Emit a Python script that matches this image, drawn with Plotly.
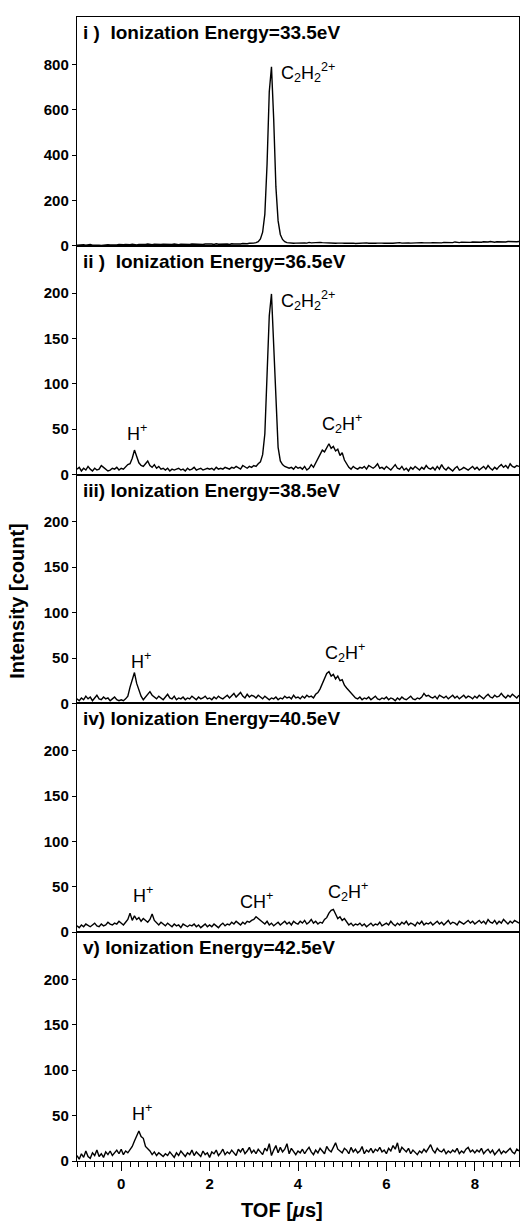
import numpy as np
import plotly.graph_objects as go
from plotly.subplots import make_subplots

# TOF sampling grid (µs), step 0.05 from -1 to 9
tof = np.round(np.arange(-1.0, 9.0001, 0.05), 2)

# Intensity [count] per panel (one row per µs)
i_33_5 = [
    3, 4, 2, 5, 3, 4, 6, 3, 4, 5, 3, 2, 4, 6, 5, 4, 3, 5, 4, 6,
    4, 5, 6, 4, 5, 7, 5, 4, 6, 5, 4, 6, 8, 6, 5, 7, 6, 5, 6, 7,
    6, 5, 7, 6, 8, 6, 5, 7, 6, 8, 7, 6, 8, 7, 6, 8, 7, 6, 8, 9,
    7, 8, 6, 9, 7, 8, 9, 7, 8, 6, 9, 8, 7, 9, 8, 10, 8, 9, 11, 10,
    12, 14, 18, 30, 60, 140, 360, 680, 790, 560, 260, 110, 50, 28, 18, 14, 12, 13, 11, 12,
    13, 12, 14, 13, 12, 15, 13, 14, 16, 17, 15, 14, 13, 12, 14, 13, 12, 11, 12, 13,
    12, 11, 12, 13, 11, 12, 10, 11, 12, 11, 12, 13, 11, 10, 12, 11, 12, 13, 12, 11,
    12, 13, 12, 11, 13, 12, 14, 12, 13, 15, 13, 12, 13, 14, 12, 13, 14, 13, 12, 14,
    13, 14, 13, 15, 14, 13, 15, 14, 16, 15, 14, 17, 15, 14, 16, 15, 14, 16, 15, 17,
    16, 15, 17, 16, 18, 16, 17, 19, 17, 16, 18, 17, 19, 18, 17, 19, 18, 20, 19, 18,
    19,
]
i_36_5 = [
    6, 8, 4, 7, 5, 9, 6, 4, 7, 5, 6, 10, 8, 6, 4, 5, 7, 6, 8, 5,
    7, 6, 9, 11, 12, 18, 27, 20, 13, 10, 9, 12, 15, 10, 8, 11, 7, 9, 6, 7,
    5, 7, 4, 6, 5, 6, 7, 5, 6, 4, 7, 5, 6, 8, 5, 6, 7, 5, 6, 7,
    6, 7, 5, 8, 6, 7, 6, 8, 7, 6, 8, 7, 9, 7, 6, 10, 8, 7, 9, 8,
    10, 9, 12, 14, 22, 45, 110, 175, 199, 140, 70, 30, 15, 11, 9, 8, 7, 8, 6, 9,
    7, 8, 6, 9, 5, 7, 11, 8, 13, 18, 22, 27, 25, 30, 34, 29, 31, 26, 28, 21,
    24, 16, 12, 8, 6, 9, 7, 6, 8, 7, 9, 6, 10, 8, 7, 9, 12, 7, 8, 6,
    9, 7, 5, 8, 11, 7, 6, 9, 5, 7, 4, 8, 6, 9, 7, 5, 8, 6, 10, 7,
    6, 8, 5, 9, 6, 11, 7, 5, 8, 6, 4, 7, 9, 5, 6, 8, 6, 5, 7, 9,
    6, 8, 5, 7, 9, 6, 10, 7, 5, 8, 6, 9, 11, 8, 10, 7, 12, 9, 8, 10,
    9,
]
i_38_5 = [
    5, 3, 6, 4, 8, 5, 7, 3, 6, 9, 5, 4, 7, 5, 6, 3, 5, 7, 4, 3,
    4, 3, 5, 8, 18, 26, 34, 22, 15, 8, 4, 7, 10, 13, 9, 7, 5, 8, 6, 4,
    7, 10, 6, 5, 8, 4, 6, 5, 7, 4, 6, 5, 8, 6, 4, 7, 5, 6, 8, 5,
    6, 4, 7, 5, 8, 6, 5, 7, 9, 6, 8, 11, 7, 9, 12, 8, 6, 10, 7, 9,
    8, 6, 9, 7, 5, 8, 6, 4, 6, 5, 7, 4, 6, 5, 8, 6, 7, 5, 9, 6,
    7, 5, 8, 6, 9, 7, 8, 6, 10, 12, 16, 22, 26, 33, 35, 30, 32, 27, 30, 25,
    26, 20, 17, 14, 11, 8, 6, 5, 7, 4, 6, 5, 7, 4, 6, 8, 5, 4, 6, 5,
    7, 4, 6, 5, 3, 6, 4, 7, 5, 4, 6, 8, 5, 4, 6, 5, 7, 11, 8, 9,
    7, 6, 8, 5, 9, 7, 6, 8, 5, 7, 9, 6, 8, 5, 7, 9, 6, 8, 7, 5,
    8, 6, 9, 7, 5, 8, 10, 7, 6, 9, 7, 8, 11, 8, 6, 9, 7, 10, 8, 6,
    9,
]
i_40_5 = [
    7, 5, 8, 6, 9, 7, 6, 8, 10, 7, 6, 9, 7, 8, 11, 9, 8, 10, 9, 12,
    10, 8, 11, 14, 21, 13, 18, 14, 16, 12, 15, 13, 11, 14, 20, 13, 10, 8, 11, 9,
    7, 10, 8, 6, 9, 7, 8, 5, 9, 7, 6, 8, 7, 9, 6, 8, 5, 7, 9, 6,
    8, 6, 9, 7, 5, 8, 10, 7, 9, 8, 11, 9, 12, 10, 8, 11, 9, 12, 11, 13,
    14, 17, 15, 13, 11, 9, 12, 8, 10, 7, 9, 11, 8, 10, 12, 9, 11, 8, 12, 10,
    9, 12, 10, 13, 9, 11, 14, 10, 12, 9, 11, 10, 14, 16, 21, 24, 25, 20, 15, 17,
    13, 15, 11, 8, 10, 7, 9, 8, 10, 7, 9, 6, 8, 10, 7, 9, 8, 11, 7, 9,
    10, 8, 12, 9, 7, 10, 8, 11, 9, 12, 8, 10, 9, 7, 11, 9, 12, 8, 10, 9,
    11, 8, 10, 12, 9, 11, 8, 10, 13, 9, 11, 10, 8, 12, 10, 9, 11, 13, 10, 12,
    9, 11, 13, 10, 12, 9, 14, 11, 10, 13, 9, 12, 10, 14, 11, 9, 12, 10, 13, 11,
    10,
]
i_42_5 = [
    6, 2, 8, 4, 11, 5, 3, 9, 6, 12, 5, 8, 4, 10, 7, 11, 6, 9, 12, 8,
    13, 7, 11, 9, 12, 16, 22, 28, 33, 27, 25, 16, 14, 11, 7, 10, 6, 9, 7, 5,
    8, 6, 10, 7, 4, 9, 6, 11, 8, 5, 9, 7, 12, 6, 10, 8, 5, 11, 7, 9,
    4, 10, 8, 12, 6, 9, 13, 7, 10, 8, 12, 9, 6, 13, 10, 14, 8, 11, 15, 9,
    12, 8, 13, 10, 7, 14, 11, 19, 6, 12, 17, 9, 15, 10, 13, 19, 8, 14, 10, 7,
    11, 9, 13, 8, 12, 15, 10, 7, 12, 9, 14, 11, 8, 16, 12, 10, 15, 20, 13, 11,
    9, 14, 12, 8, 15, 10, 13, 9, 11, 16, 8, 12, 10, 14, 9, 13, 11, 15, 10, 12,
    8, 14, 11, 17, 13, 20, 9, 15, 12, 10, 14, 8, 12, 10, 7, 11, 9, 13, 10, 14,
    18, 12, 9, 14, 11, 10, 13, 8, 11, 9, 12, 10, 14, 8, 11, 9, 13, 15, 10, 12,
    9, 12, 10, 14, 8, 11, 13, 9, 12, 7, 10, 13, 8, 11, 9, 12, 14, 10, 8, 13,
    11,
]

series = [i_33_5, i_36_5, i_38_5, i_40_5, i_42_5]
panel_titles = [
    "i )\u00a0 Ionization Energy=33.5eV",
    "ii )\u00a0 Ionization Energy=36.5eV",
    "iii) Ionization Energy=38.5eV",
    "iv) Ionization Energy=40.5eV",
    "v) Ionization Energy=42.5eV",
]
y_ranges = [[0, 1010], [0, 252], [0, 252], [0, 252], [0, 252]]
y_ticks = [[0, 200, 400, 600, 800]] + [[0, 50, 100, 150, 200]] * 4

# Peak labels: (panel, text, x, y, anchor)
C2H2 = "C<sub>2</sub>H<sub>2</sub><sup>2+</sup>"
C2H = "C<sub>2</sub>H<sup>+</sup>"
peak_labels = [
    (1, C2H2, 3.57, 765, "left"),
    (2, C2H2, 3.57, 192, "left"),
    (2, "H<sup>+</sup>", 0.36, 46, "center"),
    (2, C2H, 5.0, 56, "center"),
    (3, "H<sup>+</sup>", 0.44, 47, "center"),
    (3, C2H, 5.06, 56, "center"),
    (4, "H<sup>+</sup>", 0.5, 42, "center"),
    (4, "CH<sup>+</sup>", 3.07, 35, "center"),
    (4, C2H, 5.13, 45, "center"),
    (5, "H<sup>+</sup>", 0.47, 53, "center"),
]

FONT = "Liberation Sans, Arial, sans-serif"

fig = make_subplots(rows=5, cols=1, shared_xaxes=True, vertical_spacing=0)

for r, ys in enumerate(series, start=1):
    fig.add_trace(
        go.Scatter(x=tof, y=ys, mode="lines",
                   line=dict(color="black", width=1.4), hoverinfo="skip"),
        row=r, col=1,
    )
    fig.update_yaxes(
        range=y_ranges[r - 1], tickvals=y_ticks[r - 1],
        ticks="outside", ticklen=4, tickwidth=1.2, tickcolor="black",
        showline=True, linecolor="black", linewidth=1.4, mirror=True,
        showgrid=False, zeroline=False,
        tickfont=dict(family=FONT, size=15, color="black", weight="bold"),
        row=r, col=1,
    )
    if r < 5:
        fig.update_xaxes(
            range=[-1, 9], showline=True, linecolor="black", linewidth=1.4,
            mirror=True, showgrid=False, zeroline=False, ticks="",
            showticklabels=False, row=r, col=1,
        )
    else:
        fig.update_xaxes(
            range=[-1, 9], showline=True, linecolor="black", linewidth=1.4,
            mirror=True, showgrid=False, zeroline=False,
            ticks="outside", dtick=2, tick0=0, ticklen=9, tickwidth=1.4,
            tickcolor="black", showticklabels=True,
            tickfont=dict(family=FONT, size=15, color="black", weight="bold"),
            minor=dict(dtick=0.2, tick0=0, ticks="outside", ticklen=5,
                       tickwidth=1.1, tickcolor="black"),
            row=r, col=1,
        )
    fig.add_annotation(
        text=panel_titles[r - 1], xref=f"x{r} domain" if r > 1 else "x domain",
        yref=f"y{r} domain" if r > 1 else "y domain",
        x=0, y=1, xanchor="left", yanchor="top", xshift=4, yshift=-3,
        showarrow=False,
        font=dict(family=FONT, size=19, color="black", weight="bold"),
    )

for (p, txt, xv, yv, anc) in peak_labels:
    fig.add_annotation(
        text=txt, x=xv, y=yv, xref=f"x{p}" if p > 1 else "x",
        yref=f"y{p}" if p > 1 else "y", xanchor=anc, yanchor="middle",
        showarrow=False, font=dict(family=FONT, size=18, color="black"),
    )

fig.add_annotation(
    text="Intensity [count]", xref="paper", yref="paper",
    x=-0.135, y=0.49, textangle=-90, showarrow=False,
    xanchor="center", yanchor="middle",
    font=dict(family=FONT, size=20, color="black", weight="bold"),
)
fig.add_annotation(
    text="TOF [<i>\u03bc</i>s]", xref="paper", yref="paper",
    x=0.464, y=-0.043, showarrow=False, xanchor="center", yanchor="middle",
    font=dict(family=FONT, size=20, color="black", weight="bold"),
)

fig.update_layout(
    width=522, height=1221,
    margin=dict(l=77, r=3, t=17, b=60),
    paper_bgcolor="white", plot_bgcolor="white",
    showlegend=False,
)

fig.write_html("out.html")
